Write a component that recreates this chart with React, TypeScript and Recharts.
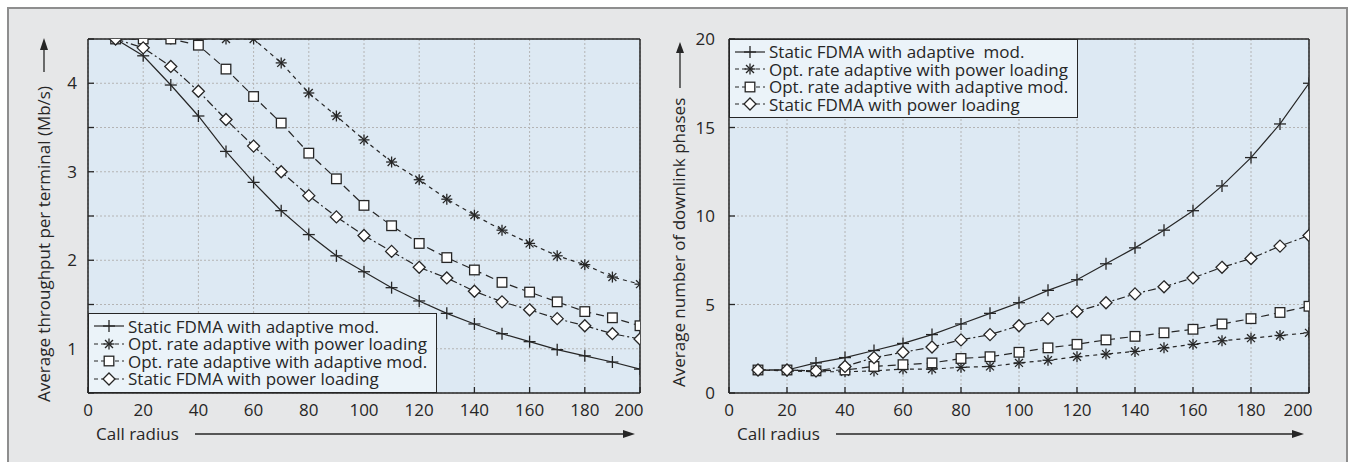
import React from 'react';
import { LineChart, Line, XAxis, YAxis, CartesianGrid } from 'recharts';

// ---------- data ----------
const callRadius = [10, 20, 30, 40, 50, 60, 70, 80, 90, 100, 110, 120, 130, 140, 150, 160, 170, 180, 190, 200];

// Left panel: average throughput per terminal (Mb/s)
const thrStaticAdaptive = [4.5, 4.31, 3.98, 3.63, 3.23, 2.88, 2.56, 2.29, 2.05, 1.87, 1.69, 1.54, 1.4, 1.28, 1.17, 1.08, 0.99, 0.92, 0.85, 0.77];
const thrOptPower = [4.5, 4.5, 4.5, 4.5, 4.5, 4.5, 4.23, 3.89, 3.63, 3.36, 3.11, 2.91, 2.69, 2.51, 2.34, 2.19, 2.05, 1.95, 1.81, 1.73];
const thrOptAdaptive = [4.5, 4.5, 4.5, 4.43, 4.16, 3.85, 3.55, 3.21, 2.92, 2.62, 2.39, 2.19, 2.03, 1.89, 1.75, 1.64, 1.53, 1.42, 1.35, 1.26];
const thrStaticPower = [4.5, 4.4, 4.19, 3.91, 3.59, 3.29, 3.0, 2.73, 2.49, 2.28, 2.1, 1.92, 1.8, 1.65, 1.53, 1.44, 1.34, 1.26, 1.17, 1.11];

// Right panel: average number of downlink phases
const phStaticAdaptive = [1.3, 1.3, 1.7, 2.0, 2.4, 2.8, 3.3, 3.9, 4.5, 5.1, 5.8, 6.4, 7.3, 8.2, 9.2, 10.3, 11.7, 13.3, 15.2, 17.5];
const phOptPower = [1.3, 1.25, 1.2, 1.2, 1.25, 1.35, 1.35, 1.45, 1.5, 1.7, 1.85, 2.05, 2.2, 2.35, 2.55, 2.75, 2.95, 3.1, 3.25, 3.4];
const phOptAdaptive = [1.3, 1.3, 1.25, 1.3, 1.5, 1.6, 1.7, 1.95, 2.05, 2.3, 2.55, 2.75, 3.0, 3.2, 3.4, 3.6, 3.9, 4.2, 4.55, 4.9];
const phStaticPower = [1.3, 1.3, 1.25, 1.5, 2.0, 2.3, 2.6, 3.0, 3.3, 3.8, 4.2, 4.6, 5.1, 5.6, 6.0, 6.5, 7.1, 7.6, 8.3, 8.9];

const xTicks = [0, 20, 40, 60, 80, 100, 120, 140, 160, 180, 200];
const leftYTicks = [0.5, 1, 1.5, 2, 2.5, 3, 3.5, 4, 4.5];
const rightYTicks = [0, 5, 10, 15, 20];

const leftLegendLabels = [
  'Static FDMA with adaptive mod.',
  'Opt. rate adaptive with power loading',
  'Opt. rate adaptive with adaptive mod.',
  'Static FDMA with power loading',
];
const rightLegendLabels = [
  'Static FDMA with adaptive  mod.',
  'Opt. rate adaptive with power loading',
  'Opt. rate adaptive with adaptive mod.',
  'Static FDMA with power loading',
];
const leftYTitle = 'Average throughput per terminal (Mb/s)';
const rightYTitle = 'Average number of downlink phases';
const xTitle = 'Call radius';

// ---------- styles ----------
const INK = '#262626';
const FONT = '"Open Sans", "Noto Sans", sans-serif';
const FS = 17;
const PLOT_BG = '#dde9f3';
const OUTER_BG = '#e6e7e8';
const LEGEND_BG = '#ebf3f9';
const GRID = '#b4b4b4';

type MarkKind = 'plus' | 'star' | 'square' | 'diamond';

function Mark({ kind, cx, cy }: { kind: MarkKind; cx: number; cy: number }) {
  const common = { stroke: INK, strokeWidth: 1.3, fill: 'none' } as any;
  if (kind === 'plus') {
    const r = 6;
    return (
      <g>
        <line x1={cx - r} x2={cx + r} y1={cy} y2={cy} {...common} />
        <line x1={cx} x2={cx} y1={cy - r} y2={cy + r} {...common} />
      </g>
    );
  }
  if (kind === 'star') {
    const r = 5.5;
    const d = r * 0.72;
    return (
      <g>
        <line x1={cx - r} x2={cx + r} y1={cy} y2={cy} {...common} />
        <line x1={cx} x2={cx} y1={cy - r} y2={cy + r} {...common} />
        <line x1={cx - d} x2={cx + d} y1={cy - d} y2={cy + d} {...common} />
        <line x1={cx - d} x2={cx + d} y1={cy + d} y2={cy - d} {...common} />
      </g>
    );
  }
  if (kind === 'square') {
    const h = 4.8;
    return <rect x={cx - h} y={cy - h} width={2 * h} height={2 * h} stroke={INK} strokeWidth={1.3} fill="#ffffff" />;
  }
  const h = 6;
  return (
    <polygon
      points={`${cx},${cy - h} ${cx + h},${cy} ${cx},${cy + h} ${cx - h},${cy}`}
      stroke={INK}
      strokeWidth={1.3}
      fill="#ffffff"
    />
  );
}

const seriesStyle: { key: string; mark: MarkKind; dash: string | undefined }[] = [
  { key: 's1', mark: 'plus', dash: undefined },
  { key: 's2', mark: 'star', dash: '4 4' },
  { key: 's3', mark: 'square', dash: '8 5' },
  { key: 's4', mark: 'diamond', dash: '8 3 2 3' },
];

const leftData = callRadius.map((x, i) => ({
  x,
  s1: thrStaticAdaptive[i],
  s2: thrOptPower[i],
  s3: thrOptAdaptive[i],
  s4: thrStaticPower[i],
}));
const rightData = callRadius.map((x, i) => ({
  x,
  s1: phStaticAdaptive[i],
  s2: phOptPower[i],
  s3: phOptAdaptive[i],
  s4: phStaticPower[i],
}));

const XTick = (props: any) => {
  const { x, y, payload } = props;
  const v = payload.value;
  const dx = v === 200 ? -11 : 0;
  return (
    <text x={x + dx} y={y} dy="0.71em" textAnchor="middle" fontSize={FS} fill={INK} fontFamily={FONT}>
      {v}
    </text>
  );
};

function Panel(props: {
  data: any[];
  left: number;
  width: number;
  margin: { top: number; right: number; bottom: number; left: number };
  yDomain: [number, number];
  yTicks: number[];
  yFmt: (v: number) => string;
  yAxisWidth: number;
  yTickMargin: number;
}) {
  const { data, left, width, margin, yDomain, yTicks, yFmt, yAxisWidth, yTickMargin } = props;
  const axisLine = { stroke: INK, strokeWidth: 1.5 };
  const tickLine = { stroke: INK, strokeWidth: 1.3 };
  return (
    <div style={{ position: 'absolute', left, top: 0 }}>
      <LineChart width={width} height={462} data={data} margin={margin}>
        <CartesianGrid stroke={GRID} strokeDasharray="2 2" fill={PLOT_BG} fillOpacity={1} />
        <XAxis
          type="number"
          dataKey="x"
          domain={[0, 200]}
          allowDataOverflow
          ticks={xTicks}
          interval={0}
          height={30}
          tickSize={-6}
          tickMargin={17}
          tick={<XTick />}
          axisLine={axisLine}
          tickLine={tickLine}
        />
        <XAxis
          xAxisId="top"
          orientation="top"
          type="number"
          dataKey="x"
          domain={[0, 200]}
          allowDataOverflow
          ticks={xTicks}
          interval={0}
          height={1}
          tickSize={-6}
          tick={false}
          axisLine={axisLine}
          tickLine={tickLine}
        />
        <YAxis
          type="number"
          domain={yDomain}
          allowDataOverflow
          ticks={yTicks}
          interval={0}
          width={yAxisWidth}
          tickSize={-6}
          tickMargin={yTickMargin}
          tickFormatter={yFmt}
          tick={{ fontSize: FS, fill: INK, fontFamily: FONT }}
          axisLine={axisLine}
          tickLine={tickLine}
        />
        <YAxis
          yAxisId="right"
          orientation="right"
          type="number"
          domain={yDomain}
          allowDataOverflow
          ticks={yTicks}
          interval={0}
          width={1}
          tickSize={-6}
          tick={false}
          axisLine={axisLine}
          tickLine={tickLine}
        />
        {seriesStyle.map((s) => (
          <Line
            key={s.key}
            dataKey={s.key}
            type="linear"
            stroke={INK}
            strokeWidth={1.2}
            strokeDasharray={s.dash}
            isAnimationActive={false}
            activeDot={false}
            dot={(p: any) => <Mark key={`${s.key}-${p.index}`} kind={s.mark} cx={p.cx} cy={p.cy} />}
          />
        ))}
      </LineChart>
    </div>
  );
}

function LegendSample({ kind, dash }: { kind: MarkKind; dash: string | undefined }) {
  return (
    <svg width={32} height={16} style={{ display: 'block' }}>
      <line x1={1} x2={31} y1={8} y2={8} stroke={INK} strokeWidth={1.2} strokeDasharray={dash ? '4 3' : undefined} />
      <Mark kind={kind} cx={16} cy={8} />
    </svg>
  );
}

function LegendBox({ left, top, width, height, labels, padTop }: { left: number; top: number; width: number; height: number; labels: string[]; padTop: number }) {
  return (
    <div
      style={{
        position: 'absolute',
        left,
        top,
        width,
        height,
        boxSizing: 'border-box',
        border: `1.5px solid ${INK}`,
        background: LEGEND_BG,
        paddingTop: padTop,
        fontFamily: FONT,
        fontSize: FS,
        color: INK,
        overflow: 'hidden',
      }}
    >
      {labels.map((lab, i) => (
        <div key={lab} style={{ display: 'flex', alignItems: 'center', height: 17.5 }}>
          <div style={{ width: 4 }} />
          <LegendSample kind={seriesStyle[i].mark} dash={seriesStyle[i].dash} />
          <div style={{ width: 3 }} />
          <span style={{ whiteSpace: 'pre', lineHeight: '17.5px' }}>{lab}</span>
        </div>
      ))}
    </div>
  );
}

function Titles() {
  const t = { fontFamily: FONT, fontSize: FS, fill: INK } as any;
  return (
    <svg width={1350} height={462} style={{ position: 'absolute', left: 0, top: 0, pointerEvents: 'none' }}>
      {/* left y title */}
      <text {...t} transform="translate(50,402) rotate(-90)" textAnchor="start">{leftYTitle}</text>
      <line x1={44} x2={44} y1={72} y2={48} stroke={INK} strokeWidth={1.3} />
      <polygon points="44,38 40,50 48,50" fill={INK} />
      {/* left x title */}
      <text {...t} x={96} y={440}>{xTitle}</text>
      <line x1={195} x2={625} y1={434} y2={434} stroke={INK} strokeWidth={1.3} />
      <polygon points="635,434 623,430 623,438" fill={INK} />
      {/* right y title */}
      <text {...t} transform="translate(685,387) rotate(-90)" textAnchor="start">{rightYTitle}</text>
      <line x1={680} x2={680} y1={88} y2={52} stroke={INK} strokeWidth={1.3} />
      <polygon points="680,42 676,53 684,53" fill={INK} />
      {/* right x title */}
      <text {...t} x={737} y={440}>{xTitle}</text>
      <line x1={836} x2={1294} y1={434} y2={434} stroke={INK} strokeWidth={1.3} />
      <polygon points="1304,434 1292,430 1292,438" fill={INK} />
    </svg>
  );
}

export default function App() {
  return (
    <div style={{ position: 'absolute', left: 0, top: 0, width: 1350, height: 462, overflow: 'hidden' }}>
      <div
        style={{
          position: 'absolute',
          left: 7,
          top: 7,
          width: 1341,
          height: 455,
          boxSizing: 'border-box',
          background: OUTER_BG,
          borderTop: '2px solid #8e8e8e',
          borderLeft: '2px solid #8e8e8e',
          borderRight: '2px solid #8e8e8e',
        }}
      />
      <Panel
        data={leftData}
        left={0}
        width={660}
        margin={{ top: 38, right: 19, bottom: 39, left: 28 }}
        yDomain={[0.5, 4.5]}
        yTicks={leftYTicks}
        yFmt={(v: number) => (Number.isInteger(v) ? String(v) : '')}
        yAxisWidth={60}
        yTickMargin={17}
      />
      <Panel
        data={rightData}
        left={660}
        width={670}
        margin={{ top: 38, right: 20, bottom: 39, left: 19 }}
        yDomain={[0, 20]}
        yTicks={rightYTicks}
        yFmt={(v: number) => String(v)}
        yAxisWidth={50}
        yTickMargin={20}
      />
      <Titles />
      <LegendBox left={88} top={313} width={349} height={80} labels={leftLegendLabels} padTop={3.5} />
      <LegendBox left={729} top={39} width={349} height={79} labels={rightLegendLabels} padTop={3} />
    </div>
  );
}
